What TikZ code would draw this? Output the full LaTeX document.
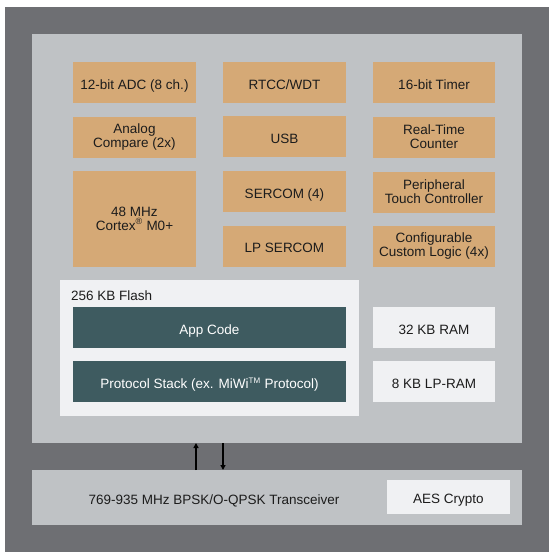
\documentclass[tikz,border=0pt]{standalone}
\usepackage{fontspec}
\setmainfont{Liberation Sans}
\usetikzlibrary{arrows.meta}
\definecolor{outergray}{HTML}{6E6F73}
\definecolor{lightgray}{HTML}{BFC2C5}
\definecolor{orangebox}{HTML}{D5A976}
\definecolor{paleW}{HTML}{F0F1F3}
\definecolor{tealbox}{HTML}{3E5B60}
\definecolor{txt}{HTML}{1C1C1C}
\tikzset{
  blk/.style={inner sep=0pt, outer sep=0pt, align=center, font=\fontsize{13.5}{14}\selectfont, text=txt},
  oneline/.style={text height=13.5pt, text depth=0pt},
  obox/.style={blk, fill=orangebox, minimum width=123, minimum height=41},
  wbox/.style={blk, oneline, fill=paleW, minimum width=122, minimum height=41},
  tbox/.style={blk, oneline, fill=tealbox, text=white, minimum width=273, minimum height=41},
  busarrow/.style={line width=1.3pt, -{Triangle[length=5pt,width=5pt]}}
}
\begin{document}
\begin{tikzpicture}[x=1pt,y=-1pt]
\useasboundingbox (0,0) rectangle (555,552);
\fill[white] (0,0) rectangle (555,552);
\node[blk, fill=outergray, minimum width=544, minimum height=545] (outer) at (277,279.5) {};
\node[blk, fill=lightgray, minimum width=490, minimum height=409] (mcu) at (277,238.5) {};
\node[blk, fill=lightgray, minimum width=490, minimum height=55] (trx) at (277,497.5) {};
% column 1
\node[obox, oneline] (adc) at (134.5,82.5) {12-bit ADC (8 ch.)};
\node[obox] (ac) at (134.5,137) {Analog\\Compare (2x)};
\node[obox, minimum height=96] (cpu) at (134.5,218.5) {48 MHz\\Cortex\smash{\textsuperscript{\fontsize{9}{9}\selectfont ®}} M0+};
% column 2
\node[obox, oneline] (rtcc) at (284.5,82.5) {RTCC/WDT};
\node[obox, oneline] (usb) at (284.5,136.5) {USB};
\node[obox, oneline] (sercom) at (284.5,191.5) {SERCOM (4)};
\node[obox, oneline] (lpsercom) at (284.5,246) {LP SERCOM};
% column 3
\node[obox, oneline, minimum width=122] (timer) at (434,82.5) {16-bit Timer};
\node[obox, minimum width=122] (rtc) at (434,137) {Real-Time\\Counter};
\node[obox, minimum width=122] (ptc) at (434,192) {Peripheral\\Touch Controller};
\node[obox, minimum width=122] (ccl) at (434,246.5) {Configurable\\Custom Logic (4x)};
% flash
\node[blk, fill=paleW, minimum width=299, minimum height=136] (flash) at (209.5,348) {};
\node[blk, anchor=base west] (flashlbl) at (71,300) {256 KB Flash};
\node[tbox] (app) at (209.5,327.5) {App Code};
\node[tbox] (stack) at (209.5,381.5) {Protocol Stack (ex. MiWi\smash{\textsuperscript{\fontsize{8}{8}\selectfont TM}} Protocol)};
% RAM
\node[wbox] (ram) at (434,327.5) {32 KB RAM};
\node[wbox] (lpram) at (434,381.5) {8 KB LP-RAM};
% transceiver
\node[blk, oneline] (trxlbl) at (214,497.5) {769-935 MHz BPSK/O-QPSK Transceiver};
\node[blk, oneline, fill=paleW, minimum width=123, minimum height=34] (aes) at (448.5,497) {AES Crypto};
% arrows
\coordinate (ua) at (196,0);
\coordinate (da) at (223,0);
\draw[busarrow] (trx.north -| ua) -- (mcu.south -| ua);
\draw[busarrow] (mcu.south -| da) -- (trx.north -| da);
\end{tikzpicture}
\end{document}
